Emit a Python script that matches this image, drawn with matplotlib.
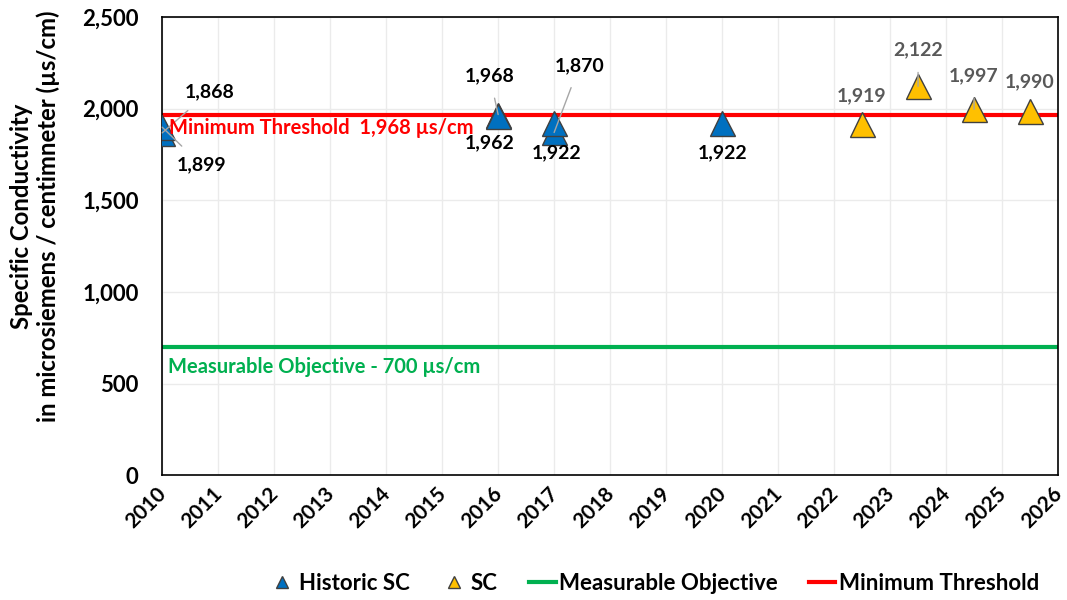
import matplotlib.pyplot as plt
import matplotlib.transforms as mtransforms
import numpy as np

plt.rcParams['font.family'] = ['Lato', 'DejaVu Sans']
plt.rcParams['font.weight'] = 'bold'

# historic readings (fractional year, value)
hist_years = [2010.0, 2010.0, 2016.0, 2016.0, 2017.0, 2017.0, 2020.0]
hist_vals = [1868, 1899, 1968, 1962, 1870, 1922, 1922]
# recent readings
sc_years = [2022.5, 2023.5, 2024.5, 2025.5]
sc_vals = [1919, 2122, 1997, 1990]

min_threshold = 1968
objective = 700
year_ticks = list(range(2010, 2027))

# label positions (x, y) for each point, same order as the data
hist_label_pos = [(2010.84, 2091), (2010.7, 1692), (2015.85, 2178), (2015.85, 1812),
                  (2017.45, 2233), (2017.05, 1758), (2020.0, 1758)]
hist_leader = [True, True, True, False, True, False, False]
sc_label_pos = [(2022.5, 2069), (2023.5, 2320), (2024.5, 2178), (2025.5, 2145)]
sc_leader = [False, True, True, False]

fig = plt.figure(figsize=(10.67, 6), dpi=100)
ax = fig.add_axes([0.152, 0.208, 0.8396, 0.7636])

ax.set_xlim(2010, 2026)
ax.set_ylim(0, 2500)
ax.set_xticks(year_ticks)
ax.set_xticklabels([str(y) for y in year_ticks], rotation=45, ha='right',
                   rotation_mode='anchor', fontsize=15, fontweight='bold')
ax.set_yticks(np.arange(0, 2501, 500))
ax.set_yticklabels(['{:,}'.format(v) for v in range(0, 2501, 500)],
                   fontsize=16, fontweight='bold')
ax.tick_params(axis='x', length=0, pad=6)
ax.tick_params(axis='y', length=0, pad=17)
# nudge year labels left so the last one stays inside the figure
shift = mtransforms.ScaledTranslation(-6 / 100, 0, fig.dpi_scale_trans)
for lbl in ax.get_xticklabels():
    lbl.set_transform(lbl.get_transform() + shift)
ax.grid(True, color='#ebebeb', linewidth=1)
ax.set_axisbelow(True)
for s in ax.spines.values():
    s.set_color('black')
    s.set_linewidth(1.2)

ax.set_ylabel('Specific Conductivity\nin microsiemens / centimneter (µs/cm)',
              fontsize=17.2, fontweight='bold', linespacing=1.2)
ax.yaxis.set_label_coords(-0.114, 0.566)

ax.axhline(objective, color='#00b050', linewidth=3, label='Measurable Objective', zorder=2)
ax.axhline(min_threshold, color='#ff0000', linewidth=3, label='Minimum Threshold', zorder=2)

ax.plot(hist_years, hist_vals, linestyle='none', marker='^', markersize=18,
        markerfacecolor='#0070c0', markeredgecolor='#404040', markeredgewidth=1,
        label='Historic SC', zorder=4)
ax.plot(sc_years, sc_vals, linestyle='none', marker='^', markersize=18,
        markerfacecolor='#ffc000', markeredgecolor='#404040', markeredgewidth=1,
        label='SC', zorder=4)

for x, v, pos, lead in zip(hist_years, hist_vals, hist_label_pos, hist_leader):
    ax.annotate('{:,}'.format(v), xy=(x, v), xytext=pos, ha='center', va='center',
                fontsize=14, fontweight='bold', color='black',
                arrowprops=dict(arrowstyle='-', color='#a6a6a6', lw=1, shrinkA=8, shrinkB=0)
                if lead else None, zorder=5)
for x, v, pos, lead in zip(sc_years, sc_vals, sc_label_pos, sc_leader):
    ax.annotate('{:,}'.format(v), xy=(x, v), xytext=pos, ha='center', va='center',
                fontsize=14, fontweight='bold', color='#595959',
                arrowprops=dict(arrowstyle='-', color='#a6a6a6', lw=1, shrinkA=8, shrinkB=0)
                if lead else None, zorder=5)

ax.text(2010.12, 1894, 'Minimum Threshold  1,968 µs/cm', color='#ff0000',
        fontsize=14.5, fontweight='bold', va='center', ha='left', zorder=5)
ax.text(2010.1, 590, 'Measurable Objective - 700 µs/cm', color='#00b050',
        fontsize=14.5, fontweight='bold', va='center', ha='left', zorder=5)

h, l = ax.get_legend_handles_labels()
order = [2, 3, 0, 1]
leg = fig.legend([h[i] for i in order], [l[i] for i in order], loc='center',
                 bbox_to_anchor=(0.613, 0.028), ncol=4, frameon=False, fontsize=16,
                 handlelength=1.2, handletextpad=0.15, columnspacing=1.4, markerscale=0.5)

fig.savefig('out.png', dpi=100)
